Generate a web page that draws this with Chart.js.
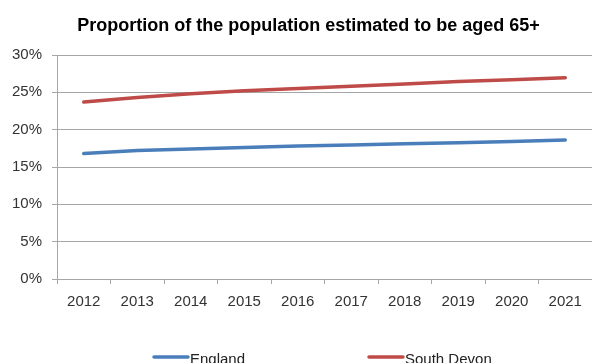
<!DOCTYPE html>
<html>
<head>
<meta charset="utf-8">
<script src="https://cdn.jsdelivr.net/npm/chart.js@4.4.1/dist/chart.umd.min.js"></script>
<style>
  html, body { margin: 0; padding: 0; background: #fff; overflow: hidden; }
  #wrap { width: 592px; height: 363px; }
</style>
</head>
<body>
<div id="wrap"><canvas id="chart" width="592" height="363"></canvas></div>
<script>
// Share of residents aged 65 and over, by year (%)
const years = ['2012', '2013', '2014', '2015', '2016', '2017', '2018', '2019', '2020', '2021'];
const england = [16.8, 17.2, 17.4, 17.6, 17.8, 17.95, 18.1, 18.25, 18.4, 18.6];
const southDevon = [23.7, 24.3, 24.8, 25.2, 25.5, 25.8, 26.1, 26.45, 26.7, 26.95];
const seriesNames = ['England', 'South Devon'];
const yTicks = [0, 5, 10, 15, 20, 25, 30];
const chartTitle = 'Proportion of the population estimated to be aged 65+';

const FONT = '"Liberation Sans", Arial, sans-serif';
const GRID = '#a6a6a6';

// Heading above the plot, centred over the plot frame
const heading = {
  id: 'heading',
  afterDraw(chart) {
    const ctx = chart.ctx;
    ctx.save();
    ctx.font = 'bold 18px ' + FONT;
    ctx.fillStyle = '#000';
    ctx.textAlign = 'center';
    ctx.textBaseline = 'alphabetic';
    ctx.fillText(chartTitle, 308.5, 31);
    ctx.restore();
  }
};

// Legend drawn as short line samples beneath the axis
const lineLegend = {
  id: 'lineLegend',
  afterDraw(chart) {
    const ctx = chart.ctx;
    const spots = [153, 368];
    ctx.save();
    ctx.font = '15px ' + FONT;
    ctx.textBaseline = 'alphabetic';
    ctx.textAlign = 'left';
    chart.data.datasets.forEach((ds, i) => {
      const x = spots[i];
      const y = 357;
      ctx.strokeStyle = ds.borderColor;
      ctx.lineWidth = 3.5;
      ctx.lineCap = 'round';
      ctx.beginPath();
      ctx.moveTo(x + 1, y);
      ctx.lineTo(x + 35, y);
      ctx.stroke();
      ctx.fillStyle = '#222';
      ctx.fillText(ds.label, x + 37, 363.5);
    });
    ctx.restore();
  }
};

new Chart(document.getElementById('chart'), {
  type: 'line',
  data: {
    labels: years,
    datasets: [
      { label: seriesNames[0], data: england, borderColor: '#4a7ebb', backgroundColor: '#4a7ebb' },
      { label: seriesNames[1], data: southDevon, borderColor: '#be4b48', backgroundColor: '#be4b48' }
    ]
  },
  options: {
    responsive: false,
    animation: false,
    events: [],
    layout: { padding: { left: 0, right: 0, top: 55, bottom: 43 } },
    elements: {
      line: { borderWidth: 3.5, tension: 0, borderCapStyle: 'round' },
      point: { radius: 0 }
    },
    plugins: {
      legend: { display: false },
      tooltip: { enabled: false },
      title: { display: false }
    },
    scales: {
      x: {
        offset: true,
        grid: { offset: true, drawOnChartArea: false, drawTicks: true, tickLength: 5, color: GRID, tickColor: GRID },
        border: { color: GRID, width: 1 },
        ticks: { color: '#333', padding: 9, font: { family: FONT, size: 15, lineHeight: 1.2 }, maxRotation: 0 }
      },
      y: {
        min: 0,
        max: 30,
        afterFit(scale) { scale.width = 57; },
        afterBuildTicks(scale) { scale.ticks = yTicks.map(v => ({ value: v })); },
        grid: { color: GRID, tickColor: GRID, tickLength: 5, drawTicks: true },
        border: { color: GRID, width: 1 },
        ticks: {
          color: '#333',
          padding: 10,
          font: { family: FONT, size: 15, lineHeight: 1.2 },
          callback: v => v + '%'
        }
      }
    }
  },
  plugins: [heading, lineLegend]
});
</script>
</body>
</html>
